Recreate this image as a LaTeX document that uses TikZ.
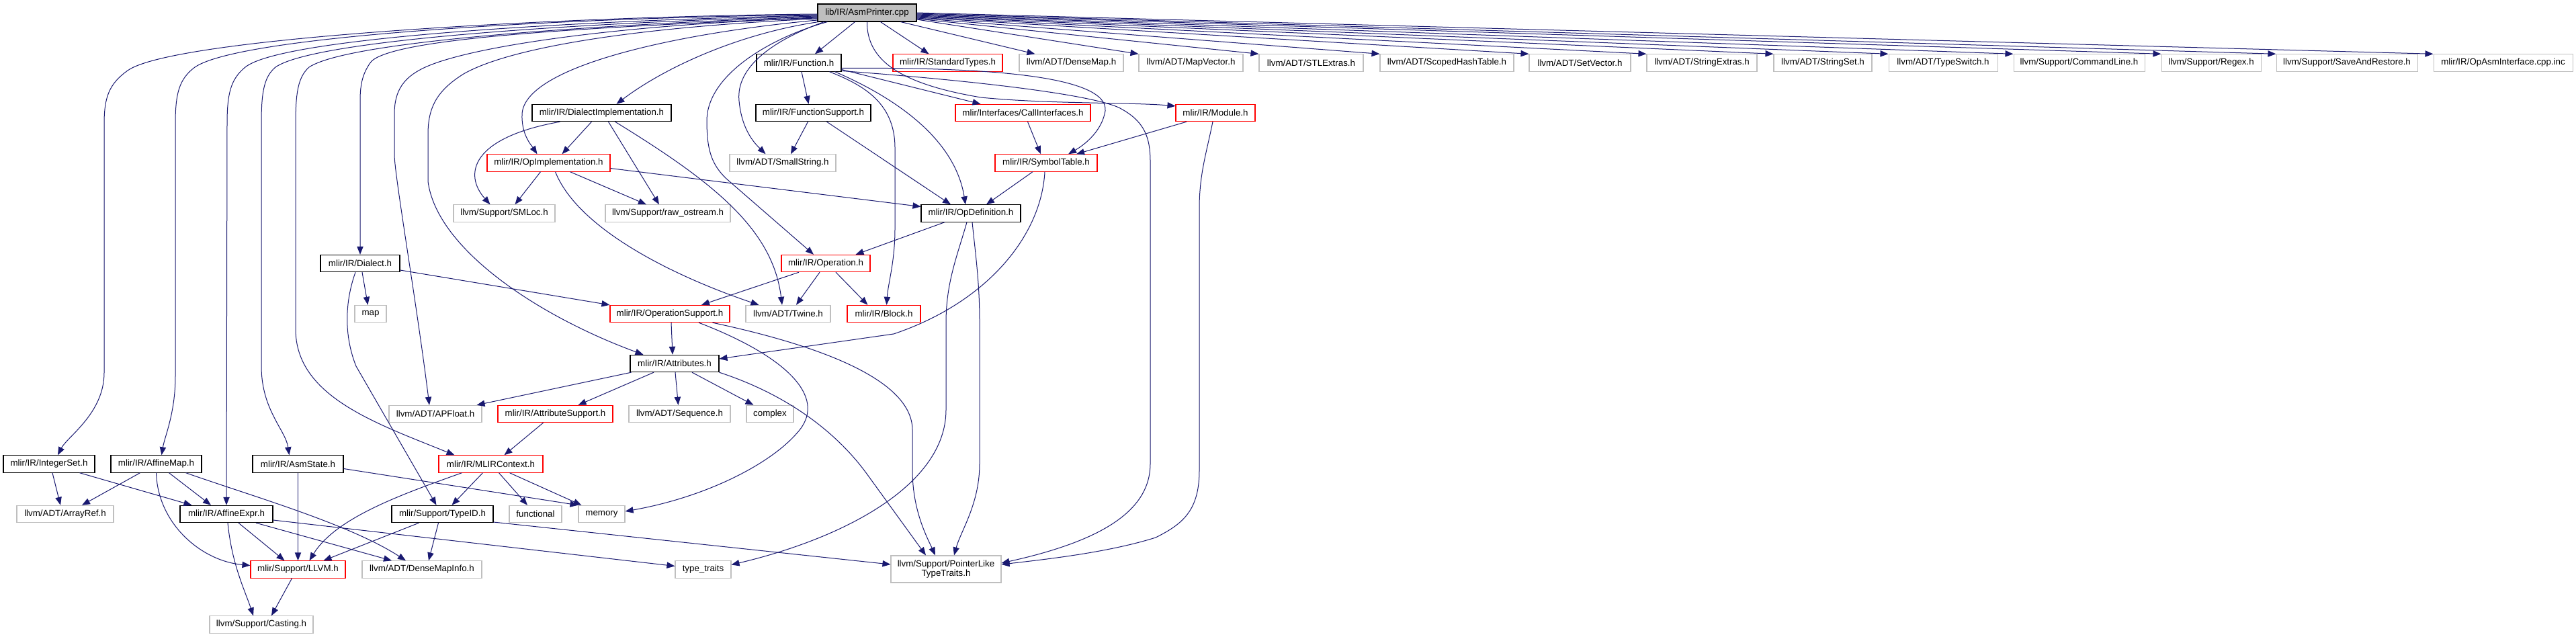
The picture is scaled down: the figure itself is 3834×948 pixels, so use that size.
\documentclass[tikz,border=0pt]{standalone}
\usepackage{fontspec}
\setmainfont{Liberation Sans}
\usetikzlibrary{arrows.meta,calc}
\definecolor{edgec}{HTML}{191970}
\definecolor{grayc}{HTML}{BFBFBF}
\newcommand{\nfont}{\fontsize{10pt}{11pt}\selectfont}
\begin{document}
\begin{tikzpicture}[x=0.75pt,y=-0.75pt,
  nb/.style={draw=black, rectangle, inner sep=0pt, minimum height=19pt, font=\nfont, line width=0.8pt, fill=white},
  bk/.style={nb},
  rd/.style={nb, draw=red},
  gy/.style={nb, draw=grayc},
  wd/.style={minimum width={#1*0.75pt}},
  e/.style={draw=edgec, line width=0.75pt, -{Triangle[length=9pt,width=7pt]}}]
\useasboundingbox (0,0) rectangle (3834,948);
\fill[white] (0,0) rectangle (3834,948);
% row 0
\node[nb, fill=grayc, wd=147, minimum height=19.5pt] (root) at (1290.5,19) {lib/IR/AsmPrinter.cpp};
% row 1
\node[bk, wd=126] (fn) at (1189,93.5) {mlir/IR/Function.h};
\node[rd, wd=163] (std) at (1410.5,93.5) {mlir/IR/StandardTypes.h};
\node[gy, wd=155] (dmap) at (1594.5,93.5) {llvm/ADT/DenseMap.h};
\node[gy, wd=155] (mapv) at (1772.5,93.5) {llvm/ADT/MapVector.h};
\node[gy, wd=155] (stle) at (1951.5,93.5) {llvm/ADT/STLExtras.h};
\node[gy, wd=199] (sht) at (2153.5,93.5) {llvm/ADT/ScopedHashTable.h};
\node[gy, wd=151] (setv) at (2351.5,93.5) {llvm/ADT/SetVector.h};
\node[gy, wd=164] (strx) at (2533,93.5) {llvm/ADT/StringExtras.h};
\node[gy, wd=146] (strs) at (2713,93.5) {llvm/ADT/StringSet.h};
\node[gy, wd=162] (tsw) at (2892,93.5) {llvm/ADT/TypeSwitch.h};
\node[gy, wd=195] (cl) at (3094.5,93.5) {llvm/Support/CommandLine.h};
\node[gy, wd=148] (regex) at (3291,93.5) {llvm/Support/Regex.h};
\node[gy, wd=210] (sar) at (3493,93.5) {llvm/Support/SaveAndRestore.h};
\node[gy, wd=207] (opasm) at (3725.5,93.5) {mlir/IR/OpAsmInterface.cpp.inc};
% row 2
\node[bk, wd=207] (dimpl) at (895.5,168) {mlir/IR/DialectImplementation.h};
\node[bk, wd=171] (fsup) at (1210.5,168) {mlir/IR/FunctionSupport.h};
\node[rd, wd=201] (call) at (1522.5,168) {mlir/Interfaces/CallInterfaces.h};
\node[rd, wd=118] (mod) at (1809,168) {mlir/IR/Module.h};
% row 3
\node[rd, wd=183] (opimpl) at (816.5,242.5) {mlir/IR/OpImplementation.h};
\node[gy, wd=158] (smallstr) at (1165,242.5) {llvm/ADT/SmallString.h};
\node[rd, wd=152] (symt) at (1557,242.5) {mlir/IR/SymbolTable.h};
% row 4
\node[gy, wd=151] (smloc) at (750.5,317.5) {llvm/Support/SMLoc.h};
\node[gy, wd=186] (raw) at (994,317.5) {llvm/Support/raw\_ostream.h};
\node[bk, wd=148] (opdef) at (1445,317.5) {mlir/IR/OpDefinition.h};
% row 5
\node[bk, wd=118] (dialect) at (536,392) {mlir/IR/Dialect.h};
\node[rd, wd=132] (oper) at (1229,392) {mlir/IR/Operation.h};
% row 6
\node[gy, wd=47] (map) at (551.5,467) {map};
\node[rd, wd=178] (opsup) at (997,467) {mlir/IR/OperationSupport.h};
\node[gy, wd=126] (twine) at (1173,467) {llvm/ADT/Twine.h};
\node[rd, wd=109] (block) at (1315.5,467) {mlir/IR/Block.h};
% row 7
\node[bk, wd=132] (attr) at (1004,541) {mlir/IR/Attributes.h};
% row 8
\node[gy, wd=138] (apf) at (648,616) {llvm/ADT/APFloat.h};
\node[rd, wd=171] (attrsup) at (826.5,616) {mlir/IR/AttributeSupport.h};
\node[gy, wd=151] (seq) at (1011.5,616) {llvm/ADT/Sequence.h};
\node[gy, wd=70] (cplx) at (1146,616) {complex};
% row 9
\node[bk, wd=136] (iset) at (73,690.5) {mlir/IR/IntegerSet.h};
\node[bk, wd=135] (amap) at (232.5,690.5) {mlir/IR/AffineMap.h};
\node[bk, wd=135] (asms) at (443.5,690.5) {mlir/IR/AsmState.h};
\node[rd, wd=155] (mlirc) at (730.5,690.5) {mlir/IR/MLIRContext.h};
% row 10
\node[gy, wd=144] (aref) at (97,765) {llvm/ADT/ArrayRef.h};
\node[bk, wd=138] (aexpr) at (337,765) {mlir/IR/AffineExpr.h};
\node[bk, wd=151] (typeid) at (658.5,765) {mlir/Support/TypeID.h};
\node[gy, wd=78] (func) at (797,765) {functional};
\node[gy, wd=69] (mem) at (895.5,765) {memory};
% row 11
\node[rd, wd=141] (llvm) at (443.5,847.5) {mlir/Support/LLVM.h};
\node[gy, wd=178] (dmi) at (628,847.5) {llvm/ADT/DenseMapInfo.h};
\node[gy, wd=83] (tt) at (1046.5,847.5) {type\_traits};
\node[gy, wd=164, minimum height=30pt, align=center] (plt) at (1408,847) {llvm/Support/PointerLike\\TypeTraits.h};
% row 12
\node[gy, wd=154] (cast) at (389,929.5) {llvm/Support/Casting.h};

% ---- edges from root, top row
\draw[e] ($(root.south)+(-18,0)$) -- ($(fn.north)+(24,0)$);
\draw[e] ($(root.south)+(20,0)$) -- ($(std.north)+(-28,0)$);
\draw[e] ($(root.south)+(50,0)$) -- ($(dmap.north west)+(24,0)$);
\draw[e] ($(root.east)+(0,10)$) -- (mapv.north west);
\draw[e] ($(root.east)+(0,9)$) -- (stle.north west);
\draw[e] ($(root.east)+(0,8)$) -- (sht.north west);
\draw[e] ($(root.east)+(0,7)$) -- (setv.north west);
\draw[e] ($(root.east)+(0,6)$) -- (strx.north west);
\draw[e] ($(root.east)+(0,5)$) -- (strs.north west);
\draw[e] ($(root.east)+(0,4)$) -- (tsw.north west);
\draw[e] ($(root.east)+(0,3)$) -- (cl.north west);
\draw[e] ($(root.east)+(0,2)$) -- (regex.north west);
\draw[e] ($(root.east)+(0,1)$) -- (sar.north west);
\draw[e] ($(root.east)+(0,0)$) -- (opasm.north west);
% ---- edges from root, left side
\draw[e] ($(root.west)+(0,2)$) .. controls (850,24) and (260,55) .. (190,105) .. controls (162,125) and (155,145) .. (155,185) -- (155,555) .. controls (155,615) and (100,650) .. ($(iset.north)+(13,0)$);
\draw[e] ($(root.west)+(0,3)$) .. controls (850,26) and (360,52) .. (290,100) .. controls (266,118) and (261,140) .. (261,185) -- (261,560) .. controls (261,615) and (245,650) .. ($(amap.north)+(8,0)$);
\draw[e] ($(root.west)+(0,4)$) .. controls (870,30) and (420,55) .. (365,100) .. controls (343,118) and (338,140) .. (338,185) -- (aexpr.north);
\draw[e] ($(root.west)+(0,5)$) .. controls (880,33) and (470,58) .. (410,100) .. controls (392,115) and (389,140) .. (389,185) -- (389,545) .. controls (389,610) and (425,640) .. ($(asms.north)+(-13,0)$);
\draw[e] ($(root.west)+(0,6)$) .. controls (900,36) and (520,60) .. (460,100) .. controls (443,115) and (440,140) .. (440,185) -- (440,490) .. controls (440,590) and (560,630) .. ($(mlirc.north west)+(24,0)$);
\draw[e] ($(root.west)+(0,7)$) .. controls (900,40) and (570,55) .. (550,95) .. controls (540,110) and (536,125) .. (536,150) -- (dialect.north);
\draw[e] ($(root.west)+(0,8)$) .. controls (950,35) and (720,65) .. (640,97) .. controls (600,113) and (587,135) .. (587,170) -- (587,230) .. controls (587,260) and (620,450) .. ($(apf.north)+(-9,0)$);
\draw[e] ($(root.west)+(0,9)$) .. controls (950,40) and (760,70) .. (690,110) .. controls (650,135) and (637,160) .. (637,200) -- (637,270) .. controls (650,370) and (800,470) .. ($(attr.north west)+(20,0)$);
\draw[e] ($(root.west)+(0,11)$) .. controls (1000,50) and (780,100) .. (777,170) .. controls (776,200) and (790,215) .. ($(opimpl.north)+(-17,0)$);
\draw[e] ($(root.south west)+(2,0)$) .. controls (1100,50) and (990,100) .. ($(dimpl.north)+(22,0)$);
\draw[e] ($(root.south west)+(15,0)$) .. controls (1150,55) and (1052,110) .. (1052,180) .. controls (1052,225) and (1060,245) .. (1080,265) -- ($(oper.north)+(-18,0)$);
\draw[e] ($(root.south west)+(10,0)$) .. controls (1150,60) and (1095,100) .. (1100,150) .. controls (1104,195) and (1125,215) .. ($(smallstr.north west)+(54,0)$);
\draw[e] (root.south) .. controls (1290,90) and (1340,125) .. (1460,145) .. controls (1560,155) and (1680,152) .. ($(mod.north west)+(0,3)$);
% ---- Function.h
\draw[e] ($(fn.east)+(0,10)$) -- ($(call.north west)+(38,0)$);
\draw[e] ($(fn.east)+(0,8)$) .. controls (1450,100) and (1650,110) .. (1645,165) .. controls (1640,195) and (1615,215) .. ($(symt.north)+(33,0)$);
\draw[e] ($(fn.east)+(0,12)$) .. controls (1450,120) and (1620,140) .. (1665,160) .. controls (1700,178) and (1712,200) .. (1712,240) -- (1712,690) .. controls (1712,760) and (1640,805) .. ($(plt.east)+(0,-9)$);
\draw[e] ($(fn.south east)+(-18,0)$) .. controls (1280,125) and (1332,150) .. (1332,220) -- (1332,340) .. controls (1332,390) and (1322,420) .. ($(block.north)+(4,0)$);
\draw[e] ($(fn.south east)+(-10,0)$) .. controls (1320,140) and (1420,200) .. ($(opdef.north)+(-8,0)$);
\draw[e] ($(fn.south)+(4,0)$) -- ($(fsup.north)+(-7,0)$);
% ---- FunctionSupport.h
\draw[e] ($(fsup.south)+(-8,0)$) -- ($(smallstr.north)+(12,0)$);
\draw[e] ($(fsup.south)+(20,0)$) -- ($(opdef.north)+(-30,0)$);
% ---- CallInterfaces / Module
\draw[e] ($(call.south)+(7,0)$) -- ($(symt.north)+(-8,0)$);
\draw[e] ($(mod.south)+(-43,0)$) -- ($(symt.north)+(45,0)$);
\draw[e] ($(mod.south)+(-4,0)$) .. controls (1795,230) and (1785,260) .. (1785,310) -- (1785,700) .. controls (1785,760) and (1760,780) .. (1720,800) .. controls (1650,822) and (1560,832) .. ($(plt.east)+(0,-7)$);
% ---- SymbolTable
\draw[e] ($(symt.south)+(-20,0)$) -- ($(opdef.north)+(23,0)$);
\draw[e] ($(symt.south)+(-2,0)$) .. controls (1550,350) and (1470,450) .. (1330,497) -- ($(attr.east)+(0,-7)$);
% ---- OpDefinition
\draw[e] ($(opdef.south)+(-39,0)$) -- ($(oper.north east)+(-22,0)$);
\draw[e] ($(opdef.south)+(-6,0)$) .. controls (1425,380) and (1408,420) .. (1408,480) -- (1408,610) .. controls (1408,720) and (1260,800) .. ($(tt.east)+(0,-7)$);
\draw[e] ($(opdef.south)+(2,0)$) .. controls (1452,380) and (1458,420) .. (1458,480) -- (1458,690) .. controls (1458,750) and (1430,790) .. ($(plt.north)+(12,0)$);
% ---- Operation
\draw[e] ($(oper.south)+(-40,0)$) -- ($(opsup.north)+(47,0)$);
\draw[e] ($(oper.south)+(-9,0)$) -- ($(twine.north)+(12,0)$);
\draw[e] ($(oper.south)+(15,0)$) -- ($(block.north west)+(31,0)$);
% ---- DialectImplementation
\draw[e] ($(dimpl.south)+(-15,0)$) -- ($(opimpl.north)+(20,0)$);
\draw[e] ($(dimpl.south)+(-62,0)$) .. controls (700,205) and (690,260) .. ($(smloc.north)+(-21,0)$);
\draw[e] ($(dimpl.south)+(10,0)$) -- ($(raw.north)+(-13,0)$);
\draw[e] ($(dimpl.south)+(20,0)$) .. controls (1060,270) and (1150,340) .. ($(twine.north)+(-9,0)$);
% ---- OpImplementation
\draw[e] ($(opimpl.south)+(-12,0)$) -- ($(smloc.north)+(16,0)$);
\draw[e] ($(opimpl.south)+(32,0)$) -- ($(raw.north)+(-32,0)$);
\draw[e] ($(opimpl.south)+(10,0)$) .. controls (860,340) and (1000,410) .. ($(twine.north west)+(20,0)$);
\draw[e] ($(opimpl.east)+(0,8)$) -- ($(opdef.west)+(0,-10)$);
% ---- Dialect
\draw[e] ($(dialect.south)+(3,0)$) -- ($(map.north)+(-4,0)$);
\draw[e] ($(dialect.east)+(0,10)$) -- (opsup.north west);
\draw[e] ($(dialect.south)+(-7,0)$) .. controls (513,450) and (512,500) .. (530,545) -- ($(typeid.north)+(-9,0)$);
% ---- OperationSupport
\draw[e] ($(opsup.south)+(2,0)$) -- ($(attr.north)+(-3,0)$);
\draw[e] ($(opsup.south)+(43,0)$) .. controls (1170,530) and (1230,590) .. (1190,640) .. controls (1150,690) and (1050,740) .. ($(mem.east)+(0,-4)$);
\draw[e] ($(opsup.south east)+(-26,0)$) .. controls (1200,510) and (1358,560) .. (1358,640) -- (1358,700) .. controls (1358,760) and (1380,800) .. ($(plt.north)+(-16,0)$);
% ---- Attributes
\draw[e] ($(attr.south west)+(2,0)$) -- ($(apf.north east)+(-8,0)$);
\draw[e] ($(attr.south)+(-31,0)$) -- ($(attrsup.north)+(34,0)$);
\draw[e] ($(attr.south)+(1,0)$) -- ($(seq.north)+(-2,0)$);
\draw[e] ($(attr.south)+(26,0)$) -- ($(cplx.north west)+(11,0)$);
\draw[e] (attr.south east) .. controls (1180,590) and (1250,650) .. (1290,705) -- ($(plt.north)+(-30,0)$);
% ---- AttributeSupport
\draw[e] ($(attrsup.south)+(-18,0)$) -- ($(mlirc.north)+(20,0)$);
% ---- MLIRContext
\draw[e] ($(mlirc.south)+(-12,0)$) -- ($(typeid.north)+(14,0)$);
\draw[e] ($(mlirc.south)+(12,0)$) -- ($(func.north)+(-12,0)$);
\draw[e] ($(mlirc.south)+(28,0)$) -- ($(mem.north west)+(5,0)$);
\draw[e] ($(mlirc.south west)+(35,0)$) .. controls (600,735) and (500,770) .. ($(llvm.north)+(17,0)$);
% ---- AsmState
\draw[e] (asms) -- (llvm);
\draw[e] ($(asms.east)+(0,7)$) -- (mem.north west);
% ---- TypeID
\draw[e] ($(typeid.south west)+(41,0)$) -- ($(llvm.north)+(38,0)$);
\draw[e] ($(typeid.south)+(-6,0)$) -- ($(dmi.north)+(10,0)$);
\draw[e] ($(typeid.east)+(0,12)$) -- ($(plt.west)+(0,-7)$);
% ---- IntegerSet / AffineMap
\draw[e] ($(iset.south)+(5,0)$) -- ($(aref.north)+(-7,0)$);
\draw[e] ($(iset.south east)+(-23,0)$) -- ($(aexpr.north west)+(18,0)$);
\draw[e] ($(amap.south)+(-24,0)$) -- ($(aref.north)+(25,0)$);
\draw[e] ($(amap.south)+(19,0)$) -- ($(aexpr.north)+(-23,0)$);
\draw[e] (amap.south) .. controls (235,780) and (300,835) .. ($(llvm.west)+(0,-6)$);
\draw[e] ($(amap.south east)+(-24,0)$) .. controls (380,740) and (520,780) .. ($(dmi.north)+(-24,0)$);
% ---- AffineExpr
\draw[e] ($(aexpr.south)+(18,0)$) -- ($(llvm.north)+(-20,0)$);
\draw[e] ($(aexpr.south)+(2,0)$) .. controls (345,840) and (365,880) .. ($(cast.north)+(-12,0)$);
\draw[e] ($(aexpr.south)+(44,0)$) -- ($(dmi.north)+(-45,0)$);
\draw[e] ($(aexpr.east)+(0,9)$) -- ($(tt.west)+(0,-5)$);
% ---- LLVM
\draw[e] ($(llvm.south)+(-9,0)$) -- ($(cast.north)+(15,0)$);
\end{tikzpicture}
\end{document}
